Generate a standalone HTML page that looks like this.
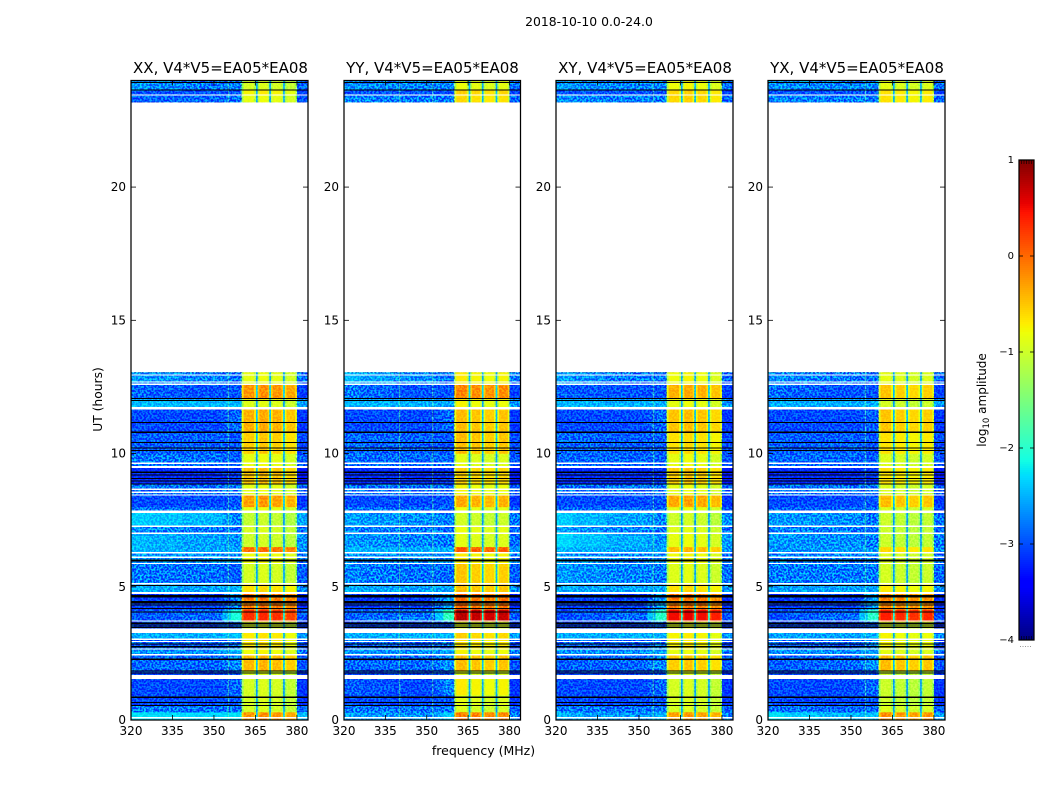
<!DOCTYPE html>
<html lang="en">
<head>
<meta charset="utf-8">
<title>2018-10-10 0.0-24.0</title>
<style>
html,body{margin:0;padding:0;background:#fff;width:1050px;height:800px;overflow:hidden}
svg{display:block}
text{font-family:"DejaVu Sans","Liberation Sans",sans-serif;fill:#000}
.noise{mix-blend-mode:overlay}
</style>
</head>
<body>
<svg id="chart" width="1050" height="800" viewBox="0 0 1050 800" xmlns="http://www.w3.org/2000/svg">
  <defs>
    <filter id="grain" x="0" y="0" width="100%" height="100%" color-interpolation-filters="sRGB">
      <feTurbulence type="fractalNoise" baseFrequency="0.52" numOctaves="1" seed="7"/>
      <feColorMatrix type="matrix" values="4.5 0 0 0 -1.8  4.5 0 0 0 -1.8  4.5 0 0 0 -1.8  0 0 0 0 1"/>
    </filter>
  </defs>
  <text x="589" y="26" font-size="12.4" text-anchor="middle">2018-10-10 0.0-24.0</text>
  <text x="220.5" y="73" font-size="15" text-anchor="middle">XX, V4*V5=EA05*EA08</text>
  <text x="432.5" y="73" font-size="15" text-anchor="middle">YY, V4*V5=EA05*EA08</text>
  <text x="645" y="73" font-size="15" text-anchor="middle">XY, V4*V5=EA05*EA08</text>
  <text x="857" y="73" font-size="15" text-anchor="middle">YX, V4*V5=EA05*EA08</text>
  <text transform="translate(102,399.5) rotate(-90)" font-size="12.3" text-anchor="middle">UT (hours)</text>
  <text x="483.5" y="755" font-size="12.5" text-anchor="middle">frequency (MHz)</text>
  <text transform="translate(986,400) rotate(-90)" font-size="12" text-anchor="middle">log<tspan font-size="8.5" dy="3">10</tspan><tspan dy="-3"> amplitude</tspan></text>
  <g id="panels"></g>
  <g id="colorbar"></g>
</svg>
<script>
// ---- axis data ----
const xTicks = [320, 335, 350, 365, 380];
const yTicks = [0, 5, 10, 15, 20];
const colorbarTicks = [1, 0, -1, -2, -3, -4];
const hourEdges = [0, 0.3, 0.55, 0.95, 1.6, 1.85, 2.45, 2.66, 3.03, 3.35, 3.7, 4.15, 4.75, 5.1, 5.9, 6.27, 6.5, 7.0, 7.27, 7.8, 8.0, 8.44, 8.85, 9.5, 10, 10.8, 11.7, 12.05, 12.6, 13.05, 23.19, 23.45, 23.64, 24];
const freqEdges = [320, 326, 332, 338, 344, 350, 353, 356, 360, 360.7, 364.5, 365.2, 365.8, 366.4, 369.4, 370, 370.6, 371.2, 374.4, 375, 375.6, 376.2, 379.4, 380, 384];
// which row level feeds each frequency column (L=left, K=left/mid, M=mid, H=mid/near, N=near band, B=band, S=stripe, F=far)
const columnKinds = ['L','K','K','M','M','M','H','N','B','B','B','S','B','B','B','S','B','B','B','S','B','B','B','F'];
const columnSubBand = [0,0,0,0,0,0,0,0,0,0,0,0,1,1,1,1,2,2,2,2,3,3,3,0];
const columnEdgeDrop = [0,0,0,0,0,0,0,0,0.4,0,0.3,0,0.3,0,0.25,0,0.3,0,0.25,0,0.3,0,0.3,0];
const stripeLevel = -2.6;

// ---- flagged time ranges (hours) ----
const whiteGaps = [[0.05,0.11],[1.53,1.68],[2.42,2.47],[2.64,2.69],[2.92,2.97],[3.01,3.06],[3.27,3.44],[3.69,3.74],[4.72,4.81],[5.09,5.14],[5.85,5.9],[6.08,6.13],[6.25,6.3],[6.98,7.03],[7.25,7.3],[7.77,7.86],[8.42,8.47],[8.52,8.57],[8.64,8.69],[9.46,9.54],[9.6,9.67],[11.66,11.75],[12.58,12.63],[12.66,12.71],[12.92,12.97],[23.43,23.48]];
const blackLines = [[0.52,0.56],[0.64,0.68],[0.83,0.88],[1.75,1.79],[1.82,1.86],[2.26,2.3],[2.73,2.77],[2.83,2.87],[3.46,3.5],[3.54,3.58],[3.61,3.66],[4.04,4.08],[4.17,4.21],[4.29,4.33],[4.37,4.47],[4.6,4.69],[5.02,5.06],[5.95,5.98],[5.99,6.02],[8.83,8.87],[8.95,8.99],[9.04,9.08],[9.17,9.21],[9.27,9.32],[10.1,10.14],[10.19,10.23],[10.39,10.43],[10.78,10.82],[11.15,11.19],[11.97,12.01],[12.05,12.09],[23.62,23.67],[23.9,23.95]];

// ---- log10 amplitude per hour bin; one set of arrays per polarisation (null = no data) ----
const xxLeft = [-2.25,-2.75,-3.0,-3.0,-3.0,-2.85,-2.65,-2.85,-2.5,-3.0,-2.95,-3.05,-2.5,-2.75,-2.6,-2.45,-2.45,-2.65,-2.35,-2.8,-3.0,-2.8,-3.15,-2.75,-2.9,-3.0,-2.45,-2.85,-2.6,null,-2.9,-2.95,-2.6];
const xxMid = [-2.3,-2.8,-3.0,-3.0,-3.0,-2.85,-2.65,-2.9,-2.5,-3.0,-2.85,-3.05,-2.55,-2.8,-2.65,-2.55,-2.55,-2.75,-2.45,-2.8,-3.0,-2.8,-3.15,-2.8,-2.9,-3.0,-2.45,-2.95,-2.7,null,-2.85,-2.95,-2.75];
const xxNear = [-2.25,-2.8,-2.95,-2.85,-2.95,-2.7,-2.5,-2.75,-2.4,-2.9,-2.1,-2.75,-2.5,-2.9,-2.65,-2.55,-2.65,-2.8,-2.7,-2.8,-2.95,-2.8,-3.1,-2.9,-2.95,-2.85,-2.45,-2.95,-2.8,null,-2.8,-2.95,-2.75];
const xxBand = [-0.25,-0.95,-0.95,-0.95,-0.95,-0.45,-0.8,-0.7,-0.7,-0.9,0.3,-0.1,-0.65,-0.95,-0.8,-0.05,-1.0,-0.95,-1.05,-0.85,-0.3,-0.85,-0.5,-0.85,-0.55,-0.4,-0.9,-0.25,-0.85,null,-0.85,-0.75,-0.95];
const xxSub = [0,0.05,0,-0.1];

const yyLeft = [-2.55,-2.75,-3.0,-2.9,-3.0,-2.85,-2.6,-2.85,-2.5,-3.0,-2.9,-3.05,-2.5,-2.7,-2.65,-2.45,-2.6,-2.7,-2.55,-2.8,-3.0,-2.8,-3.15,-2.8,-2.85,-3.0,-2.45,-2.75,-2.45,null,-2.7,-2.95,-2.65];
const yyMid = [-2.65,-2.8,-3.0,-3.0,-3.0,-2.85,-2.65,-2.9,-2.5,-3.0,-2.8,-3.05,-2.55,-2.8,-2.65,-2.5,-2.7,-2.75,-2.65,-2.8,-3.0,-2.8,-3.15,-2.85,-2.9,-3.0,-2.5,-2.95,-2.65,null,-2.75,-2.95,-2.7];
const yyNear = [-2.35,-2.8,-2.95,-2.7,-2.95,-2.65,-2.55,-2.75,-2.45,-2.9,-1.95,-2.6,-2.55,-2.85,-2.65,-2.5,-2.75,-2.85,-2.7,-2.85,-2.95,-2.8,-3.1,-2.85,-2.95,-2.85,-2.55,-2.95,-2.8,null,-2.75,-2.95,-2.7];
const yyBand = [-0.15,-0.95,-0.9,-0.75,-0.95,-0.5,-0.8,-0.7,-0.6,-0.9,0.7,-0.05,-0.5,-0.55,-0.75,0.05,-0.9,-0.85,-1.0,-0.85,-0.4,-0.8,-0.6,-0.9,-0.5,-0.5,-0.8,-0.2,-0.75,null,-0.65,-0.6,-0.85];
const yySub = [0.05,0,-0.05,0];

const xyLeft = [-2.5,-2.75,-3.0,-3.0,-3.0,-2.9,-2.65,-2.85,-2.5,-3.0,-3.0,-3.05,-2.5,-2.6,-2.6,-2.45,-2.3,-2.55,-2.35,-2.85,-3.0,-2.8,-3.15,-2.85,-2.85,-3.0,-2.45,-2.9,-2.55,null,-2.65,-2.95,-2.6];
const xyMid = [-2.6,-2.8,-3.0,-3.0,-3.0,-2.85,-2.65,-2.9,-2.5,-3.0,-2.85,-3.05,-2.55,-2.7,-2.7,-2.55,-2.5,-2.7,-2.55,-2.85,-3.0,-2.8,-3.15,-2.85,-2.9,-3.0,-2.5,-2.95,-2.75,null,-2.75,-2.95,-2.7];
const xyNear = [-2.45,-2.8,-2.95,-2.85,-2.95,-2.7,-2.55,-2.75,-2.5,-2.9,-2.0,-2.6,-2.55,-2.75,-2.65,-2.55,-2.65,-2.8,-2.7,-2.85,-2.95,-2.8,-3.1,-2.9,-2.9,-2.85,-2.5,-2.95,-2.8,null,-2.75,-2.95,-2.7];
const xyBand = [-0.3,-0.95,-0.95,-0.95,-0.95,-0.55,-0.85,-0.75,-0.75,-0.9,0.5,-0.1,-0.65,-0.9,-0.8,-0.45,-0.85,-0.9,-1.0,-0.85,-0.35,-0.85,-0.55,-0.85,-0.65,-0.5,-0.85,-0.4,-0.8,null,-0.6,-0.6,-0.8];
const xySub = [0,0.05,0,-0.1];

const yxLeft = [-2.25,-2.8,-3.0,-3.0,-3.0,-2.9,-2.65,-2.85,-2.55,-3.0,-3.0,-3.05,-2.55,-2.75,-2.7,-2.65,-2.6,-2.7,-2.6,-2.85,-3.0,-2.8,-3.15,-2.85,-2.9,-3.0,-2.5,-2.8,-2.65,null,-2.7,-2.95,-2.65];
const yxMid = [-2.45,-2.85,-3.0,-3.0,-3.0,-2.85,-2.65,-2.9,-2.55,-3.0,-2.85,-3.05,-2.55,-2.75,-2.7,-2.6,-2.65,-2.75,-2.65,-2.85,-3.0,-2.8,-3.15,-2.85,-2.9,-3.0,-2.5,-2.95,-2.75,null,-2.75,-2.95,-2.7];
const yxNear = [-2.4,-2.85,-2.95,-2.85,-2.95,-2.65,-2.55,-2.75,-2.5,-2.9,-2.0,-2.6,-2.55,-2.75,-2.7,-2.6,-2.75,-2.8,-2.75,-2.85,-2.95,-2.8,-3.1,-2.9,-2.95,-2.9,-2.5,-2.95,-2.8,null,-2.75,-2.95,-2.7];
const yxBand = [-0.2,-0.9,-1.0,-1.0,-1.0,-0.45,-0.85,-0.75,-0.75,-0.9,0.4,-0.15,-0.7,-0.95,-0.9,-0.6,-1.0,-1.0,-1.0,-0.9,-0.45,-0.9,-0.65,-0.9,-0.65,-0.5,-0.95,-0.5,-0.85,null,-0.65,-0.65,-0.85];
const yxSub = [0,-0.05,-0.1,-0.05];

// narrow persistent interference channels (MHz)
const xxSpurs = [355];
const yySpurs = [340, 352];
const xySpurs = [355];
const yxSpurs = [355];
const spurLevel = -1.7;

const panelNames = ['xx', 'yy', 'xy', 'yx'];
const panelLefts = [131, 344, 556, 768];
const panelRights = [308, 520.5, 733, 945];
const panelLevels = [
  {L: xxLeft, M: xxMid, N: xxNear, B: xxBand, sub: xxSub, spurs: xxSpurs},
  {L: yyLeft, M: yyMid, N: yyNear, B: yyBand, sub: yySub, spurs: yySpurs},
  {L: xyLeft, M: xyMid, N: xyNear, B: xyBand, sub: xySub, spurs: xySpurs},
  {L: yxLeft, M: yxMid, N: yxNear, B: yxBand, sub: yxSub, spurs: yxSpurs}
];

// ---- scales ----
const SVGNS = 'http://www.w3.org/2000/svg';
const plotTop = 80.5, plotBottom = 720;
const yScale = h => plotBottom - (h / 24) * (plotBottom - plotTop);
const xScaleFor = i => f => panelLefts[i] + (f - 320) / 64 * (panelRights[i] - panelLefts[i]);
const cbTop = 160, cbBottom = 640, cbX0 = 1019, cbX1 = 1034;
const cbScale = v => cbBottom - (v + 4) / 5 * (cbBottom - cbTop);

function jet(t) {
  t = Math.max(0, Math.min(1, t));
  const c = v => Math.round(255 * Math.max(0, Math.min(1, v)));
  const r = t < 0.35 ? 0 : t < 0.66 ? (t - 0.35) / 0.31 : t < 0.89 ? 1 : 1 - (t - 0.89) / 0.11 * 0.5;
  const g = t < 0.125 ? 0 : t < 0.375 ? (t - 0.125) / 0.25 : t < 0.64 ? 1 : t < 0.91 ? 1 - (t - 0.64) / 0.27 : 0;
  const b = t < 0.11 ? 0.5 + t / 0.11 * 0.5 : t < 0.34 ? 1 : t < 0.65 ? 1 - (t - 0.34) / 0.31 : 0;
  return 'rgb(' + c(r) + ',' + c(g) + ',' + c(b) + ')';
}
const colorOf = v => jet((v + 4) / 5);

function make(tag, attrs) {
  const el = document.createElementNS(SVGNS, tag);
  for (const k in attrs) el.setAttribute(k, attrs[k]);
  return el;
}

const panelsRoot = document.getElementById('panels');

panelNames.forEach((name, p) => {
  const x = xScaleFor(p);
  const lv = panelLevels[p];
  const g = make('g', {style: 'isolation:isolate'});
  
  
  panelsRoot.appendChild(g);

  // heatmap cells
  for (let r = 0; r < hourEdges.length - 1; r++) {
    if (lv.B[r] === null) continue;
    for (let c = 0; c < freqEdges.length - 1; c++) {
      const kind = columnKinds[c];
      let v;
      if (kind === 'B') v = lv.B[r] + lv.sub[columnSubBand[c]] - columnEdgeDrop[c];
      else if (kind === 'S') v = stripeLevel + (lv.B[r] + 1) * 0.35;
      else if (kind === 'F') v = lv.M[r] - 0.1;
      else if (kind === 'K') v = (lv.L[r] + lv.M[r]) / 2;
      else if (kind === 'H') v = (lv.M[r] + lv.N[r]) / 2;
      else v = lv[kind][r];
      const x0 = x(freqEdges[c]), x1 = x(freqEdges[c + 1]);
      const y0 = yScale(hourEdges[r + 1]), y1 = yScale(hourEdges[r]);
      const cell = make('rect', {x: x0, y: y0, width: x1 - x0 + 0.3, height: y1 - y0 + 0.3, fill: colorOf(v)});
      
      
      g.appendChild(cell);
    }
  }

  // interference channels
  lv.spurs.forEach(f => {
    const spurA = make('rect', {x: x(f), y: yScale(13.05), width: 1, height: yScale(0) - yScale(13.05), fill: colorOf(spurLevel), opacity: 0.55});
    
    
    g.appendChild(spurA);
    const spurB = make('rect', {x: x(f), y: yScale(24), width: 1, height: yScale(23.19) - yScale(24), fill: colorOf(spurLevel), opacity: 0.55});
    
    
    g.appendChild(spurB);
  });

  // channel-level texture over the out-of-band parts of the two observed blocks
  [[0, 13.05], [23.19, 24]].forEach(block => {
    [[320, 360, 0.68], [360, 380, 0.25], [380, 384, 0.68]].forEach(span => {
      const grain = make('rect', {x: x(span[0]), y: yScale(block[1]), width: x(span[1]) - x(span[0]), height: yScale(block[0]) - yScale(block[1]), filter: 'url(#grain)', 'class': 'noise', opacity: span[2]});
      
      
      g.appendChild(grain);
    });
  });

  // flagged rows
  whiteGaps.forEach(w => {
    const gap = make('rect', {x: panelLefts[p], y: yScale(w[1]), width: panelRights[p] - panelLefts[p], height: yScale(w[0]) - yScale(w[1]), fill: '#fff', 'shape-rendering': 'crispEdges'});
    
    
    g.appendChild(gap);
  });
  blackLines.forEach(b => {
    const line = make('rect', {x: panelLefts[p], y: yScale(b[1]), width: panelRights[p] - panelLefts[p], height: yScale(b[0]) - yScale(b[1]), fill: '#000', 'shape-rendering': 'crispEdges'});
    
    
    g.appendChild(line);
  });

  // spine
  const frame = make('rect', {x: panelLefts[p], y: plotTop, width: panelRights[p] - panelLefts[p], height: plotBottom - plotTop, fill: 'none', stroke: '#000', 'stroke-width': 1.25});
  
  
  g.appendChild(frame);

  // x ticks
  xTicks.forEach(t => {
    const px = x(t);
    const bottomTick = make('line', {x1: px, x2: px, y1: plotBottom, y2: plotBottom - 5, stroke: '#000', 'stroke-width': 0.8});
    
    
    g.appendChild(bottomTick);
    const topTick = make('line', {x1: px, x2: px, y1: plotTop, y2: plotTop + 5, stroke: '#000', 'stroke-width': 0.8});
    
    
    g.appendChild(topTick);
    const label = make('text', {x: px, y: 735, 'font-size': 12, 'text-anchor': 'middle'});
    
    
    label.textContent = t;
    g.appendChild(label);
  });

  // y ticks
  yTicks.forEach(t => {
    const py = yScale(t);
    const leftTick = make('line', {x1: panelLefts[p], x2: panelLefts[p] + 5, y1: py, y2: py, stroke: '#000', 'stroke-width': 0.8});
    
    
    g.appendChild(leftTick);
    const rightTick = make('line', {x1: panelRights[p], x2: panelRights[p] - 5, y1: py, y2: py, stroke: '#000', 'stroke-width': 0.8});
    
    
    g.appendChild(rightTick);
    const label = make('text', {x: panelLefts[p] - 5, y: py + 4, 'font-size': 12, 'text-anchor': 'end'});
    
    
    label.textContent = t;
    g.appendChild(label);
  });
});

// ---- colorbar ----
const cbRoot = document.getElementById('colorbar');
for (let py = cbTop; py < cbBottom; py += 2) {
  const v = 1 - (py + 1 - cbTop) / (cbBottom - cbTop) * 5;
  const swatch = make('rect', {x: cbX0, y: py, width: cbX1 - cbX0, height: 2.2, fill: colorOf(v)});
  
  
  cbRoot.appendChild(swatch);
}
const cbFrame = make('rect', {x: cbX0, y: cbTop, width: cbX1 - cbX0, height: cbBottom - cbTop, fill: 'none', stroke: '#000', 'stroke-width': 1.25});


cbRoot.appendChild(cbFrame);
colorbarTicks.forEach(t => {
  const py = cbScale(t);
  const tickL = make('line', {x1: cbX0, x2: cbX0 + 4, y1: py, y2: py, stroke: '#000', 'stroke-width': 0.8});
  
  
  cbRoot.appendChild(tickL);
  const tickR = make('line', {x1: cbX1, x2: cbX1 - 4, y1: py, y2: py, stroke: '#000', 'stroke-width': 0.8});
  
  
  cbRoot.appendChild(tickR);
  const label = make('text', {x: 1014, y: py + 3, 'font-size': 10, 'text-anchor': 'end'});
  
  
  label.textContent = t < 0 ? '\u2212' + Math.abs(t) : String(t);
  cbRoot.appendChild(label);
});
const cbMinorOffsets = [2.5, 5, 7.5, 10, 12.5];
cbMinorOffsets.forEach(o => {
  const topMinor = make('line', {x1: cbX0 + o, x2: cbX0 + o, y1: cbTop, y2: cbTop + 4, stroke: '#000', 'stroke-width': 0.6});
  
  
  cbRoot.appendChild(topMinor);
  const bottomMinor = make('line', {x1: cbX0 + o, x2: cbX0 + o, y1: cbBottom, y2: cbBottom - 4, stroke: '#000', 'stroke-width': 0.6});
  
  
  cbRoot.appendChild(bottomMinor);
  const dot = make('rect', {x: cbX0 + o - 1.5, y: 646, width: 1, height: 1, fill: '#999'});
  
  
  cbRoot.appendChild(dot);
});
</script>
</body>
</html>
